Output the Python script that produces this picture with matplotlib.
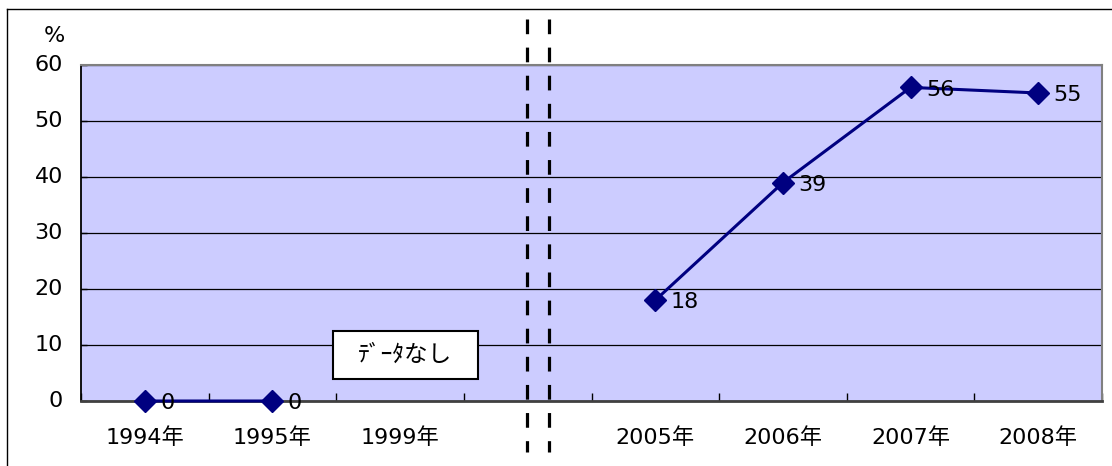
import matplotlib
matplotlib.use("Agg")
import matplotlib.pyplot as plt
import numpy as np
from matplotlib.lines import Line2D
from matplotlib.patches import Rectangle

# データ
categories = ["1994年", "1995年", "1999年", "", "2005年", "2006年", "2007年", "2008年"]
values = [0, 0, np.nan, np.nan, 18, 39, 56, 55]
y_ticks = [0, 10, 20, 30, 40, 50, 60]
no_data_label = "ﾃﾞｰﾀなし"

FONT = ["DejaVu Sans", "Noto Sans CJK JP"]
plt.rcParams["font.family"] = FONT
FS = 16

COL_BG = "#CCCCFF"
COL_LINE = "#000080"

W, H = 1112, 466
fig = plt.figure(figsize=(W / 100, H / 100), dpi=100)
ax = fig.add_axes([81 / W, 1 - 401 / H, (1102 - 81) / W, (401 - 65) / H])
ax.set_facecolor(COL_BG)

x = np.arange(len(categories))
ax.plot(x, values, color=COL_LINE, linewidth=2.2, marker="D", markersize=11,
        markerfacecolor=COL_LINE, markeredgecolor=COL_LINE, zorder=4, clip_on=False)

# 値ラベル
for xi, v in zip(x, values):
    if np.isnan(v):
        continue
    ax.text(xi + 0.12, v - 0.4, f"{v:.0f}", ha="left", va="center", fontsize=FS,
            color="black", zorder=5)

ax.set_xlim(-0.5, len(categories) - 0.5)
ax.set_ylim(0, 60)
ax.set_yticks(y_ticks)
ax.yaxis.grid(True, color="black", linewidth=0.9)
ax.set_axisbelow(True)

ax.set_xticks(x)
ax.set_xticklabels(categories, fontsize=FS)
ax.set_xticks(np.arange(len(categories) + 1) - 0.5, minor=True)
ax.tick_params(axis="x", which="major", length=0, pad=19)
ax.tick_params(axis="x", which="minor", direction="in", length=6, width=1, color="black")
ax.tick_params(axis="y", direction="in", length=4, width=1, labelsize=FS, pad=13)
for lbl in ax.get_yticklabels():
    lbl.set_verticalalignment("center")

for side in ("top", "right"):
    ax.spines[side].set_color("#808080")
    ax.spines[side].set_linewidth(1.5)
ax.spines["left"].set_color("black")
ax.spines["left"].set_linewidth(1.3)
ax.spines["bottom"].set_color("#404040")
ax.spines["bottom"].set_linewidth(2.0)

# 単位
fig.text(54 / W, 1 - 36 / H, "%", ha="center", va="center", fontsize=FS)

# データなしの注記
ax.add_patch(Rectangle((252 / 1021, 22 / 336), 145 / 1021, 48 / 336,
                       transform=ax.transAxes, facecolor="white",
                       edgecolor="black", linewidth=1.5, zorder=6))
ax.text(324.5 / 1021, 46 / 336, no_data_label, transform=ax.transAxes,
        ha="center", va="center", fontsize=17, zorder=7)

# 期間の区切り(二重破線)
for px in (526.5, 549):
    fig.add_artist(Line2D([px / W, px / W], [1 - 19 / H, 1 - 452 / H],
                          transform=fig.transFigure, color="black",
                          linewidth=2.3, dashes=(4.6, 4.2), zorder=10))

# 外枠(上・左)
fig.add_artist(Line2D([7 / W, 1.0], [1 - 9 / H, 1 - 9 / H], transform=fig.transFigure,
                      color="black", linewidth=1.0))
fig.add_artist(Line2D([7 / W, 7 / W], [1 - 9 / H, 0.0], transform=fig.transFigure,
                      color="black", linewidth=1.0))

fig.savefig("out.png", dpi=100, facecolor="white")
